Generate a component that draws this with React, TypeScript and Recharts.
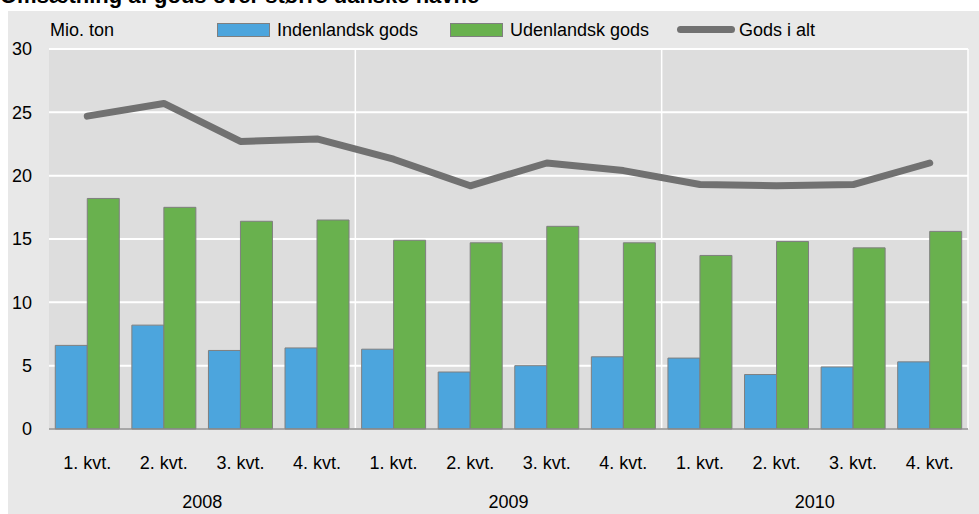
import React from 'react';
import { ComposedChart, Bar, Line, XAxis, YAxis, CartesianGrid, ReferenceLine } from 'recharts';

const quarters = ['1. kvt.', '2. kvt.', '3. kvt.', '4. kvt.', '1. kvt.', '2. kvt.', '3. kvt.', '4. kvt.', '1. kvt.', '2. kvt.', '3. kvt.', '4. kvt.'];
const years = ['2008', '2008', '2008', '2008', '2009', '2009', '2009', '2009', '2010', '2010', '2010', '2010'];
const indenlandsk = [6.6, 8.2, 6.2, 6.4, 6.3, 4.5, 5.0, 5.7, 5.6, 4.3, 4.9, 5.3];
const udenlandsk = [18.2, 17.5, 16.4, 16.5, 14.9, 14.7, 16.0, 14.7, 13.7, 14.8, 14.3, 15.6];
const godsIAlt = [24.7, 25.7, 22.7, 22.9, 21.3, 19.2, 21.0, 20.4, 19.3, 19.2, 19.3, 21.0];
const yTicks = [0, 5, 10, 15, 20, 25, 30];
const yearLabels = ['2008', '2009', '2010'];

const title = 'Omsætning af gods over større danske havne';
const unitLabel = 'Mio. ton';
const seriesNames = ['Indenlandsk gods', 'Udenlandsk gods', 'Gods i alt'];

const data = quarters.map((q, i) => ({
  q,
  year: years[i],
  ind: indenlandsk[i],
  ud: udenlandsk[i],
  total: godsIAlt[i],
}));

const FONT = '"Liberation Sans", Arial, sans-serif';
const BLUE = '#4ca5dd';
const GREEN = '#69b14e';
const LINE = '#717171';
const BAR_STROKE = '#7f7f7f';

const textStyle: React.CSSProperties = {
  position: 'absolute',
  fontFamily: FONT,
  fontSize: 18,
  lineHeight: '20px',
  color: '#000',
  whiteSpace: 'nowrap',
};

export default function App() {
  return (
    <div style={{ position: 'absolute', left: 0, top: 0, width: 979, height: 514, overflow: 'hidden', background: '#fff' }}>
      <div style={{ ...textStyle, left: 0, top: -14, fontWeight: 'bold', fontSize: 22 }}>{title}</div>
      <div style={{ position: 'absolute', left: 8, top: 11, width: 971, height: 503, background: '#e8e8e8' }}>
        <ComposedChart
          width={971}
          height={503}
          data={data}
          margin={{ top: 38, right: 11, left: 0, bottom: 0 }}
          barCategoryGap="8.2%"
          barGap={0}
        >
          <CartesianGrid vertical={false} stroke="#ffffff" strokeWidth={2} fill="#dddddd" />
          <XAxis
            dataKey="q"
            interval={0}
            height={50}
            tickLine={false}
            tickSize={0}
            tickMargin={27}
            axisLine={{ stroke: '#8a8a8a', strokeWidth: 1.5 }}
            tick={{ fill: '#000', fontSize: 18, fontFamily: FONT }}
          />
          <XAxis
            xAxisId="year"
            dataKey="year"
            allowDuplicatedCategory={false}
            interval={0}
            height={35}
            tickLine={false}
            tickSize={0}
            tickMargin={16}
            axisLine={false}
            tick={{ fill: '#000', fontSize: 18, fontFamily: FONT }}
          />
          <YAxis
            width={41}
            domain={[0, 30]}
            ticks={yTicks}
            interval={0}
            axisLine={false}
            tickLine={false}
            tickSize={0}
            tickMargin={17}
            tick={{ fill: '#000', fontSize: 18, fontFamily: FONT }}
          />
          {yearLabels.map((y) => (
            <ReferenceLine key={y} xAxisId="year" x={y} position="end" stroke="#ffffff" strokeWidth={1.5} />
          ))}
          <Bar dataKey="ind" name={seriesNames[0]} fill={BLUE} stroke={BAR_STROKE} strokeWidth={1} isAnimationActive={false} />
          <Bar dataKey="ud" name={seriesNames[1]} fill={GREEN} stroke={BAR_STROKE} strokeWidth={1} isAnimationActive={false} />
          <Line
            dataKey="total"
            name={seriesNames[2]}
            type="linear"
            stroke={LINE}
            strokeWidth={7}
            strokeLinecap="round"
            strokeLinejoin="round"
            dot={false}
            activeDot={false}
            isAnimationActive={false}
          />
        </ComposedChart>
      </div>
      <div style={{ ...textStyle, left: 50, top: 20 }}>{unitLabel}</div>
      {/* legend */}
      <div style={{ position: 'absolute', left: 217, top: 23, width: 53, height: 14, background: BLUE, boxSizing: 'border-box', border: `1px solid ${BAR_STROKE}` }} />
      <div style={{ ...textStyle, left: 277, top: 20 }}>{seriesNames[0]}</div>
      <div style={{ position: 'absolute', left: 450, top: 23, width: 53, height: 14, background: GREEN, boxSizing: 'border-box', border: `1px solid ${BAR_STROKE}` }} />
      <div style={{ ...textStyle, left: 510, top: 20 }}>{seriesNames[1]}</div>
      <div style={{ position: 'absolute', left: 677, top: 26, width: 58, height: 7, background: LINE, borderRadius: 4 }} />
      <div style={{ ...textStyle, left: 739, top: 20 }}>{seriesNames[2]}</div>
    </div>
  );
}
